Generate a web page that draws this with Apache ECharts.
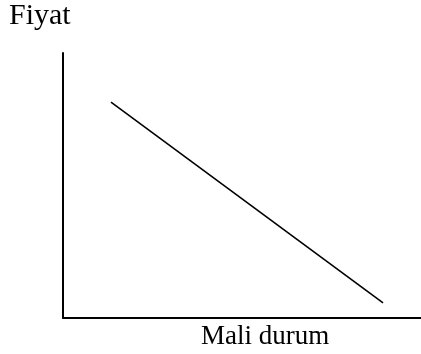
<!DOCTYPE html>
<html>
<head>
<meta charset="utf-8">
<script src="https://cdn.jsdelivr.net/npm/echarts@6/dist/echarts.min.js"></script>
<style>html,body{margin:0;padding:0;background:#fff;}#c{width:421px;height:354px;}</style>
</head>
<body>
<div id="c"></div>
<script>
var yTitle = 'Fiyat';
var xTitle = 'Mali durum';
var xValues = [13.4, 89.4];
var yValues = [81.5, 5.7];

var chart = echarts.init(document.getElementById('c'), null, {renderer: 'canvas'});
var font = '"Liberation Serif", "Times New Roman", serif';
chart.setOption({
  animation: false,
  backgroundColor: '#fff',
  title: [
    {text: yTitle, left: 9, top: 1, padding: 0,
     textStyle: {fontFamily: font, fontSize: 30, fontWeight: 'normal', color: '#000'}},
    {text: xTitle, left: 201, top: 323, padding: 0,
     textStyle: {fontFamily: font, fontSize: 27, fontWeight: 'normal', color: '#000'}}
  ],
  grid: {left: 63, right: 0, top: 53, bottom: 36, containLabel: false},
  xAxis: {type: 'value', min: 0, max: 100,
    axisLine: {show: true, onZero: false, lineStyle: {color: '#000', width: 2}},
    axisTick: {show: false}, axisLabel: {show: false}, splitLine: {show: false}},
  yAxis: {type: 'value', min: 0, max: 100,
    axisLine: {show: true, onZero: false, lineStyle: {color: '#000', width: 2}},
    axisTick: {show: false}, axisLabel: {show: false}, splitLine: {show: false}},
  series: [{
    type: 'line',
    data: xValues.map(function(x, i){ return [x, yValues[i]]; }),
    symbol: 'none',
    lineStyle: {color: '#000', width: 1.6}
  }]
});
</script>
</body>
</html>
